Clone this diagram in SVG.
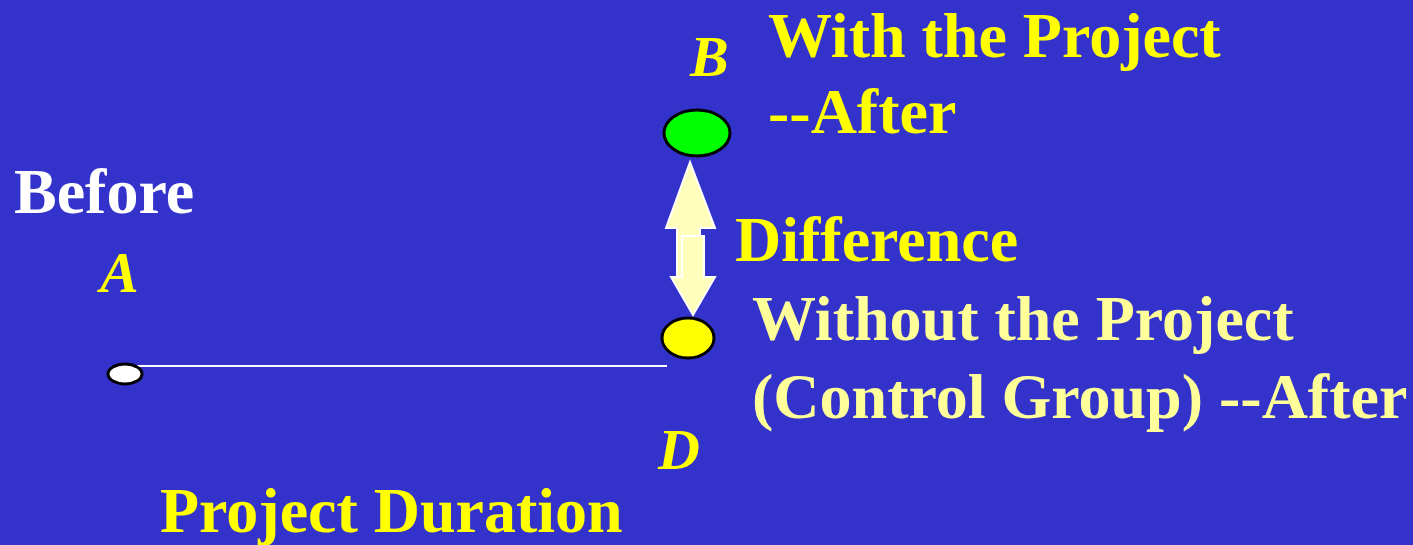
<svg xmlns="http://www.w3.org/2000/svg" width="1413" height="545" viewBox="0 0 1413 545">
  <style>
    .t { font-family: "Liberation Serif", "Times New Roman", serif; font-weight: bold; font-size: 64px; }
    .it { font-family: "Liberation Serif", "Times New Roman", serif; font-weight: bold; font-style: italic; font-size: 58px; fill: #FFFF00; }
    .y { fill: #FFFF00; }
    .ly { fill: #FFFF99; }
    .w { fill: #FFFFFF; }
    .pt { stroke: #000000; stroke-width: 3; }
    .arr { fill: #FFFFBB; stroke: #FFFFFF; stroke-width: 2; stroke-linejoin: miter; }
  </style>
  <rect x="0" y="0" width="1413" height="545" fill="#3333CC"/>

  <g id="connectors">
    <line x1="137" y1="366" x2="667" y2="366" stroke="#FFFFFF" stroke-width="2"/>
    <polygon class="arr" points="690,162 715,228 700,228 700,277 677,277 677,228 666,228"/>
    <polygon class="arr" points="682,236 704,236 704,277 715,277 693,315 671,277 682,277"/>
  </g>

  <g id="node-A">
    <ellipse class="pt" cx="125" cy="374" rx="17" ry="10" fill="#FFFFFF"/>
    <text class="t w" x="14" y="213">Before</text>
    <text class="it" x="100" y="292">A</text>
  </g>

  <g id="node-B">
    <ellipse class="pt" cx="697" cy="133" rx="33" ry="23" fill="#00FF00"/>
    <text class="it" x="690" y="76">B</text>
    <text class="t y" x="768" y="57">With the Project</text>
    <text class="t y" x="768" y="133">--After</text>
  </g>

  <g id="label-difference">
    <text class="t y" x="735" y="261">Difference</text>
  </g>

  <g id="node-D">
    <ellipse class="pt" cx="688" cy="338" rx="26" ry="20" fill="#FFFF00"/>
    <text class="t ly" x="752" y="340">Without the Project</text>
    <text class="t ly" x="752" y="418">(Control Group) --After</text>
    <text class="it" x="658" y="469">D</text>
  </g>

  <g id="label-duration">
    <text class="t y" x="160" y="532">Project Duration</text>
  </g>
</svg>
